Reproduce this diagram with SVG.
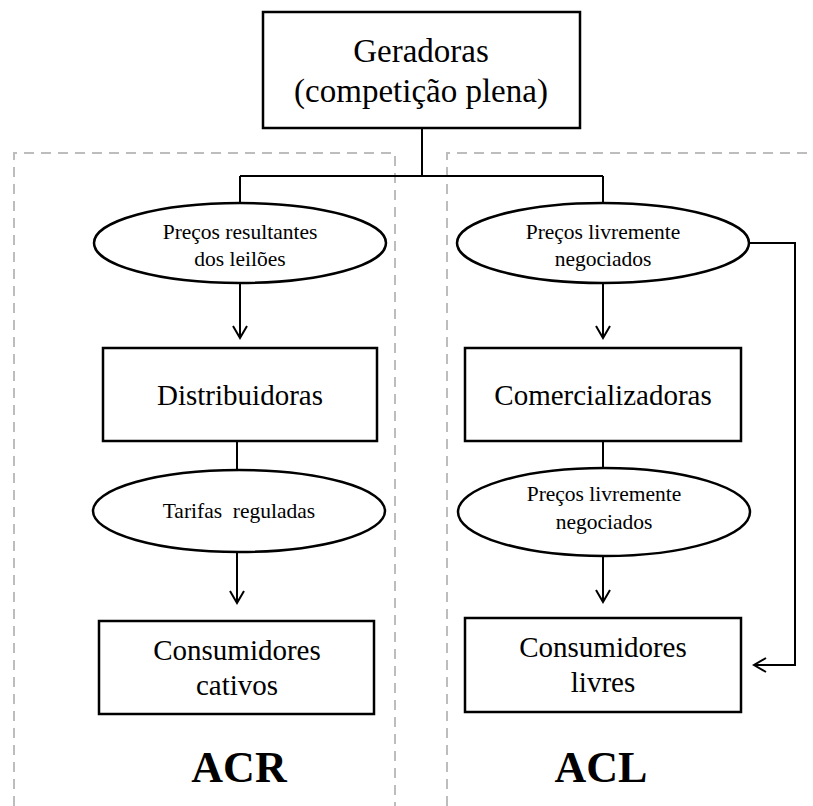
<svg xmlns="http://www.w3.org/2000/svg" width="813" height="806" viewBox="0 0 813 806">
<style>
.box{fill:#fff;stroke:#000;stroke-width:2.5}
.ell{fill:#fff;stroke:#000;stroke-width:2.5}
.ln{fill:none;stroke:#000;stroke-width:2}
.dash{fill:none;stroke:#bdbdbd;stroke-width:2;stroke-dasharray:10 7}
text{font-family:'Liberation Serif','Times New Roman',Times,'DejaVu Serif',serif;fill:#000;text-anchor:middle}
.t1{font-size:33px}
.t2{font-size:29px}
.t3{font-size:21.5px}
.t4{font-size:44px;font-weight:bold}
</style>
<defs>
<marker id="arr" viewBox="-14 -9 16 18" markerWidth="16" markerHeight="18" refX="0" refY="0" orient="auto" markerUnits="userSpaceOnUse">
<path d="M-12,-7 L0,0 L-12,7" fill="none" stroke="#000" stroke-width="2"/>
</marker>
</defs>
<rect width="813" height="806" fill="#fff"/>
<g id="regions">
<path class="dash" d="M14,806 V153 H395 V806"/>
<path class="dash" d="M447,806 V153 H813"/>
</g>
<g id="connectors">
<path class="ln" d="M422,128 V176 M240,176 H603 M240,176 V204 M603,176 V204"/>
<path class="ln" d="M240,283 V338" marker-end="url(#arr)"/>
<path class="ln" d="M603,283 V338" marker-end="url(#arr)"/>
<path class="ln" d="M237,441 V471 M603,441 V468"/>
<path class="ln" d="M237,552 V603" marker-end="url(#arr)"/>
<path class="ln" d="M603,556 V602" marker-end="url(#arr)"/>
<path class="ln" d="M749,243 H795 V665 H754" marker-end="url(#arr)"/>
</g>
<g id="geradoras">
<rect class="box" x="263" y="12" width="317" height="116"/>
<text class="t1" x="421" y="62">Geradoras</text>
<text class="t1" x="421" y="102">(competição plena)</text>
</g>
<g id="precos-leiloes">
<ellipse class="ell" cx="240" cy="243" rx="146" ry="40"/>
<text class="t3" x="240" y="239">Preços resultantes</text>
<text class="t3" x="240" y="266">dos leilões</text>
</g>
<g id="precos-livres-1">
<ellipse class="ell" cx="603" cy="243" rx="146" ry="40"/>
<text class="t3" x="603" y="239">Preços livremente</text>
<text class="t3" x="603" y="266">negociados</text>
</g>
<g id="distribuidoras">
<rect class="box" x="103" y="348" width="274" height="93"/>
<text class="t2" x="240" y="405">Distribuidoras</text>
</g>
<g id="comercializadoras">
<rect class="box" x="465" y="348" width="276" height="93"/>
<text class="t2" x="603" y="405">Comercializadoras</text>
</g>
<g id="tarifas">
<ellipse class="ell" cx="239" cy="511" rx="146" ry="41"/>
<text class="t3" x="239" y="518">Tarifas&#160; reguladas</text>
</g>
<g id="precos-livres-2">
<ellipse class="ell" cx="604" cy="512" rx="146" ry="44"/>
<text class="t3" x="604" y="501">Preços livremente</text>
<text class="t3" x="604" y="529">negociados</text>
</g>
<g id="cativos">
<rect class="box" x="99" y="621" width="275" height="93"/>
<text class="t2" x="237" y="660">Consumidores</text>
<text class="t2" x="237" y="695">cativos</text>
</g>
<g id="livres">
<rect class="box" x="465" y="618" width="276" height="94"/>
<text class="t2" x="603" y="657">Consumidores</text>
<text class="t2" x="603" y="692">livres</text>
</g>
<g id="labels">
<text class="t4" x="239" y="782">ACR</text>
<text class="t4" x="601" y="782">ACL</text>
</g>
</svg>
